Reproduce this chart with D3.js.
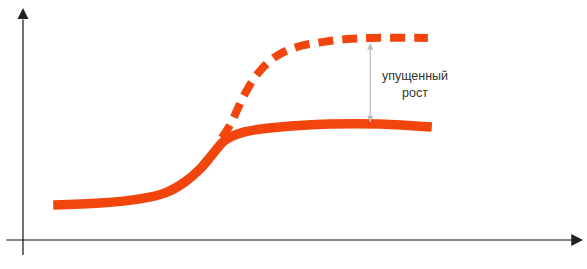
<!DOCTYPE html>
<html>
<head>
<meta charset="utf-8">
<script src="https://cdn.jsdelivr.net/npm/d3@7"></script>
<style>
  body { margin: 0; background: #fff; }
  svg { display: block; }
</style>
</head>
<body>
<script>
const w = 587;
const h = 269;

// actual growth (solid line)
const actualX = [5.4, 13.8, 20.9, 25.4, 28.9, 31.6, 33.9, 36.1, 39.6, 45.9, 54.8, 63.8, 73.0];
const actualY = [15.1, 15.9, 17.7, 20.3, 25.0, 30.6, 37.1, 43.1, 46.6, 48.7, 50.0, 50.0, 48.7];

// potential growth (dashed line)
const potentialX = [35.5, 37.0, 38.4, 39.8, 42.0, 45.0, 48.9, 53.4, 57.9, 62.0, 72.3];
const potentialY = [44.0, 49.6, 56.9, 63.8, 72.0, 78.9, 83.2, 85.3, 86.6, 87.1, 87.1];

// gap marker
const gapX = 62.0;
const gapFrom = 50.5;
const gapTo = 85.0;
const gapLabel = ["упущенный", "рост"];

const xScale = d3.scaleLinear().domain([0, 100]).range([23, 583]);
const yScale = d3.scaleLinear().domain([0, 100]).range([240, 8]);

const svg = d3.select("body")
  .append("svg")
  .attr("width", w)
  .attr("height", h);

const line = d3.line()
  .x(d => xScale(d[0]))
  .y(d => yScale(d[1]))
  .curve(d3.curveCatmullRom.alpha(0.5));

const red = "#f2450e";

// axes
svg.append("line")
  .attr("x1", xScale(0)).attr("x2", xScale(0))
  .attr("y1", yScale(-6.5)).attr("y2", yScale(95))
  .attr("stroke", "#111").attr("stroke-width", 1.2);

svg.append("path")
  .attr("d", d3.line()([[xScale(0), yScale(100)], [xScale(0) - 5.5, yScale(95.3)], [xScale(0) + 5.5, yScale(95.3)]]) + "Z")
  .attr("fill", "#222");

svg.append("line")
  .attr("x1", xScale(-3)).attr("x2", xScale(98))
  .attr("y1", yScale(0)).attr("y2", yScale(0))
  .attr("stroke", "#111").attr("stroke-width", 1.2);

svg.append("path")
  .attr("d", d3.line()([[xScale(100), yScale(0)], [xScale(97.9), yScale(0) - 6], [xScale(97.9), yScale(0) + 6]]) + "Z")
  .attr("fill", "#222");

// curves
svg.append("path")
  .datum(potentialX.map((x, i) => [x, potentialY[i]]))
  .attr("d", line)
  .attr("fill", "none")
  .attr("stroke", red)
  .attr("stroke-width", 8)
  .attr("stroke-dasharray", "15,9");

svg.append("path")
  .datum(actualX.map((x, i) => [x, actualY[i]]))
  .attr("d", line)
  .attr("fill", "none")
  .attr("stroke", red)
  .attr("stroke-width", 9.5);

// gap arrow
const gx = xScale(gapX);
const y1 = yScale(gapTo);
const y2 = yScale(gapFrom);
svg.append("line")
  .attr("x1", gx).attr("x2", gx)
  .attr("y1", y1 + 2).attr("y2", y2 - 2)
  .attr("stroke", "#aaa").attr("stroke-width", 1);
svg.append("path")
  .attr("d", `M${gx},${y1} L${gx - 3},${y1 + 7} L${gx + 3},${y1 + 7} Z`)
  .attr("fill", "#bbb");
svg.append("path")
  .attr("d", `M${gx},${y2} L${gx - 3},${y2 - 7} L${gx + 3},${y2 - 7} Z`)
  .attr("fill", "#bbb");

svg.append("text")
  .attr("x", 415)
  .attr("y", 80)
  .attr("text-anchor", "middle")
  .attr("font-family", "Liberation Sans, Arial, sans-serif")
  .attr("font-size", 12.5)
  .attr("fill", "#333")
  .selectAll("tspan")
  .data(gapLabel)
  .enter()
  .append("tspan")
  .attr("x", 415)
  .attr("dy", (d, i) => i === 0 ? 0 : 17)
  .text(d => d);
</script>
</body>
</html>
